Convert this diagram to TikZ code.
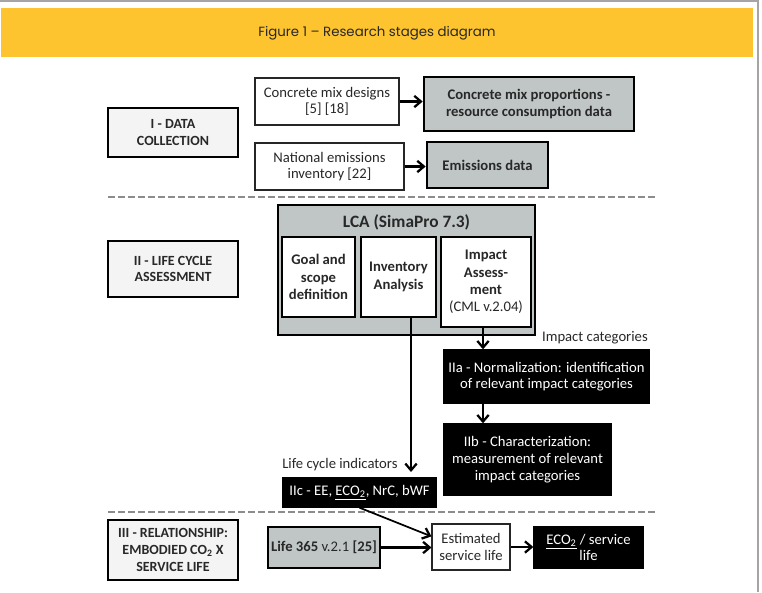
\documentclass[tikz,border=0pt]{standalone}
\usepackage{fontspec}
\setmainfont{Carlito}
\newfontfamily\titlefont{Poppins}
\usetikzlibrary{arrows.meta}
\definecolor{band}{RGB}{253,196,47}
\definecolor{boxgray}{RGB}{192,198,198}
\definecolor{lightbox}{RGB}{244,244,244}
\definecolor{dashgray}{RGB}{140,140,140}
\definecolor{framegray}{RGB}{165,165,165}
\definecolor{txt}{RGB}{40,40,40}
\begin{document}
\begin{tikzpicture}[x=0.75pt,y=-0.75pt,
  fnt/.style={font=\fontsize{11}{12.5}\selectfont},
  stage/.style={draw=black, line width=2pt, fill=lightbox, align=center, inner sep=1pt,
    font=\bfseries\fontsize{10.5}{12.5}\selectfont, text=txt},
  srcbox/.style={draw=black!85, line width=0.8pt, fill=white, align=center, inner sep=1pt,
    fnt, text=txt},
  graybox/.style={draw=black, line width=2pt, fill=boxgray, align=center, inner sep=1pt,
    font=\bfseries\fontsize{11}{13}\selectfont, text=txt},
  innerbox/.style={draw=black, line width=2pt, fill=white, align=center, inner sep=1pt,
    font=\bfseries\fontsize{11}{13}\selectfont, text=txt},
  darkbox/.style={draw=black, line width=1pt, fill=black, text=white, align=center, inner sep=1pt,
    fnt},
  lbl/.style={fnt, text=txt, inner sep=0pt},
  arr/.style={line width=1.7pt, -{Straight Barb[length=5pt,width=8.5pt,line width=1.7pt]}},
  divider/.style={draw=dashgray, line width=1.5pt, dash pattern=on 5pt off 2.5pt}
]
\useasboundingbox (0,0) rectangle (762,592);
% frame and title band
\draw[framegray, line width=1pt] (0,1) -- (758,1) -- (758,592);
\fill[band] (1,8) rectangle (753,57);
\node[font=\titlefont\fontsize{10}{12}\selectfont, text=txt] (title) at (377,33) {Figure 1 \textendash{} Research stages diagram};

% Section I
\node[stage, minimum width=97.5pt, minimum height=36.75pt] (dataI) at (173,132.5) {I - DATA\\COLLECTION};
\node[srcbox, minimum width=108pt, minimum height=35.25pt] (mixdes) at (327,101.5) {Concrete mix designs\\{[5] [18]}};
\node[graybox, minimum width=157.5pt, minimum height=40.5pt] (mixprop) at (529,104) {Concrete mix proportions -\\resource consumption data};
\node[srcbox, minimum width=111.75pt, minimum height=35.25pt] (natem) at (329.5,166.5) {National emissions\\inventory [22]};
\node[graybox, minimum width=90.75pt, minimum height=34.5pt] (emis) at (487.5,165) {Emissions data};
\draw[arr] (mixdes.east) -- (mixdes.east -| mixprop.west);
\draw[arr] (natem.east) -- (natem.east -| emis.west);

\draw[divider] (108,197) -- (655,197);

% Section II
\node[stage, minimum width=97.5pt, minimum height=42pt] (lcaII) at (173,269) {II - LIFE CYCLE\\ASSESSMENT};
\node[graybox, minimum width=192.75pt, minimum height=97.5pt] (lca) at (406.5,270) {};
\node[font=\bfseries\fontsize{13}{15}\selectfont, text=txt, inner sep=0pt] (lcatitle) at (406.5,222) {LCA (SimaPro 7.3)};
\node[innerbox, minimum width=54.75pt, minimum height=60pt] (goal) at (318.5,277) {Goal and\\scope\\definition};
\node[innerbox, minimum width=56.25pt, minimum height=60pt] (inv) at (398.5,277) {Inventory\\Analysis};
\node[innerbox, minimum width=67.5pt, minimum height=67.5pt] (imp) at (486,282) {Impact\\Assess-\\ment\\{\mdseries(CML v.2.04)}};

\node[lbl, anchor=east] (impcat) at (648,338) {Impact categories};
\node[darkbox, minimum width=153.75pt, minimum height=39.75pt] (IIa) at (546.5,376.5) {IIa - Normalization: identification\\of relevant impact categories};
\node[darkbox, minimum width=125.25pt, minimum height=53.25pt] (IIb) at (527.5,459.5) {IIb - Characterization:\\measurement of relevant\\impact categories};
\node[lbl, anchor=west] (lcind) at (282,465) {Life cycle indicators};
\node[darkbox, minimum width=114.75pt, minimum height=21.75pt] (IIc) at (359.5,492.5) {IIc - EE, \underline{ECO\textsubscript{2}}, NrC, bWF};

\coordinate (xa) at (483,0);
\coordinate (xb) at (411,0);
\draw[arr] (imp.south -| xa) -- (IIa.north -| xa);
\draw[arr] (IIa.south -| xa) -- (IIb.north -| xa);
\draw[arr, shorten >=4pt] (inv.south -| xb) -- (IIc.north -| xb);

\draw[divider] (108,512) -- (655,512);

% Section III
\node[stage, minimum width=97.5pt, minimum height=45pt] (relIII) at (173,550) {III - RELATIONSHIP:\\EMBODIED CO\textsubscript{2} X\\SERVICE LIFE};
\node[graybox, minimum width=84pt, minimum height=30.75pt] (life) at (324,547.5) {Life 365 {\mdseries v.2.1} [25]};
\node[srcbox, minimum width=58.5pt, minimum height=34.5pt] (est) at (471,547) {Estimated\\service life};
\node[darkbox, minimum width=81.75pt, minimum height=30.75pt] (ecosl) at (588.5,547.5) {\underline{ECO\textsubscript{2}} / service\\life};
\draw[arr] (life.east) -- (life.east -| est.west);
\draw[arr] (est.east) -- (est.east -| ecosl.west);
\draw[arr, line width=1.3pt] (IIc.south) -- (est.165);
\end{tikzpicture}
\end{document}
